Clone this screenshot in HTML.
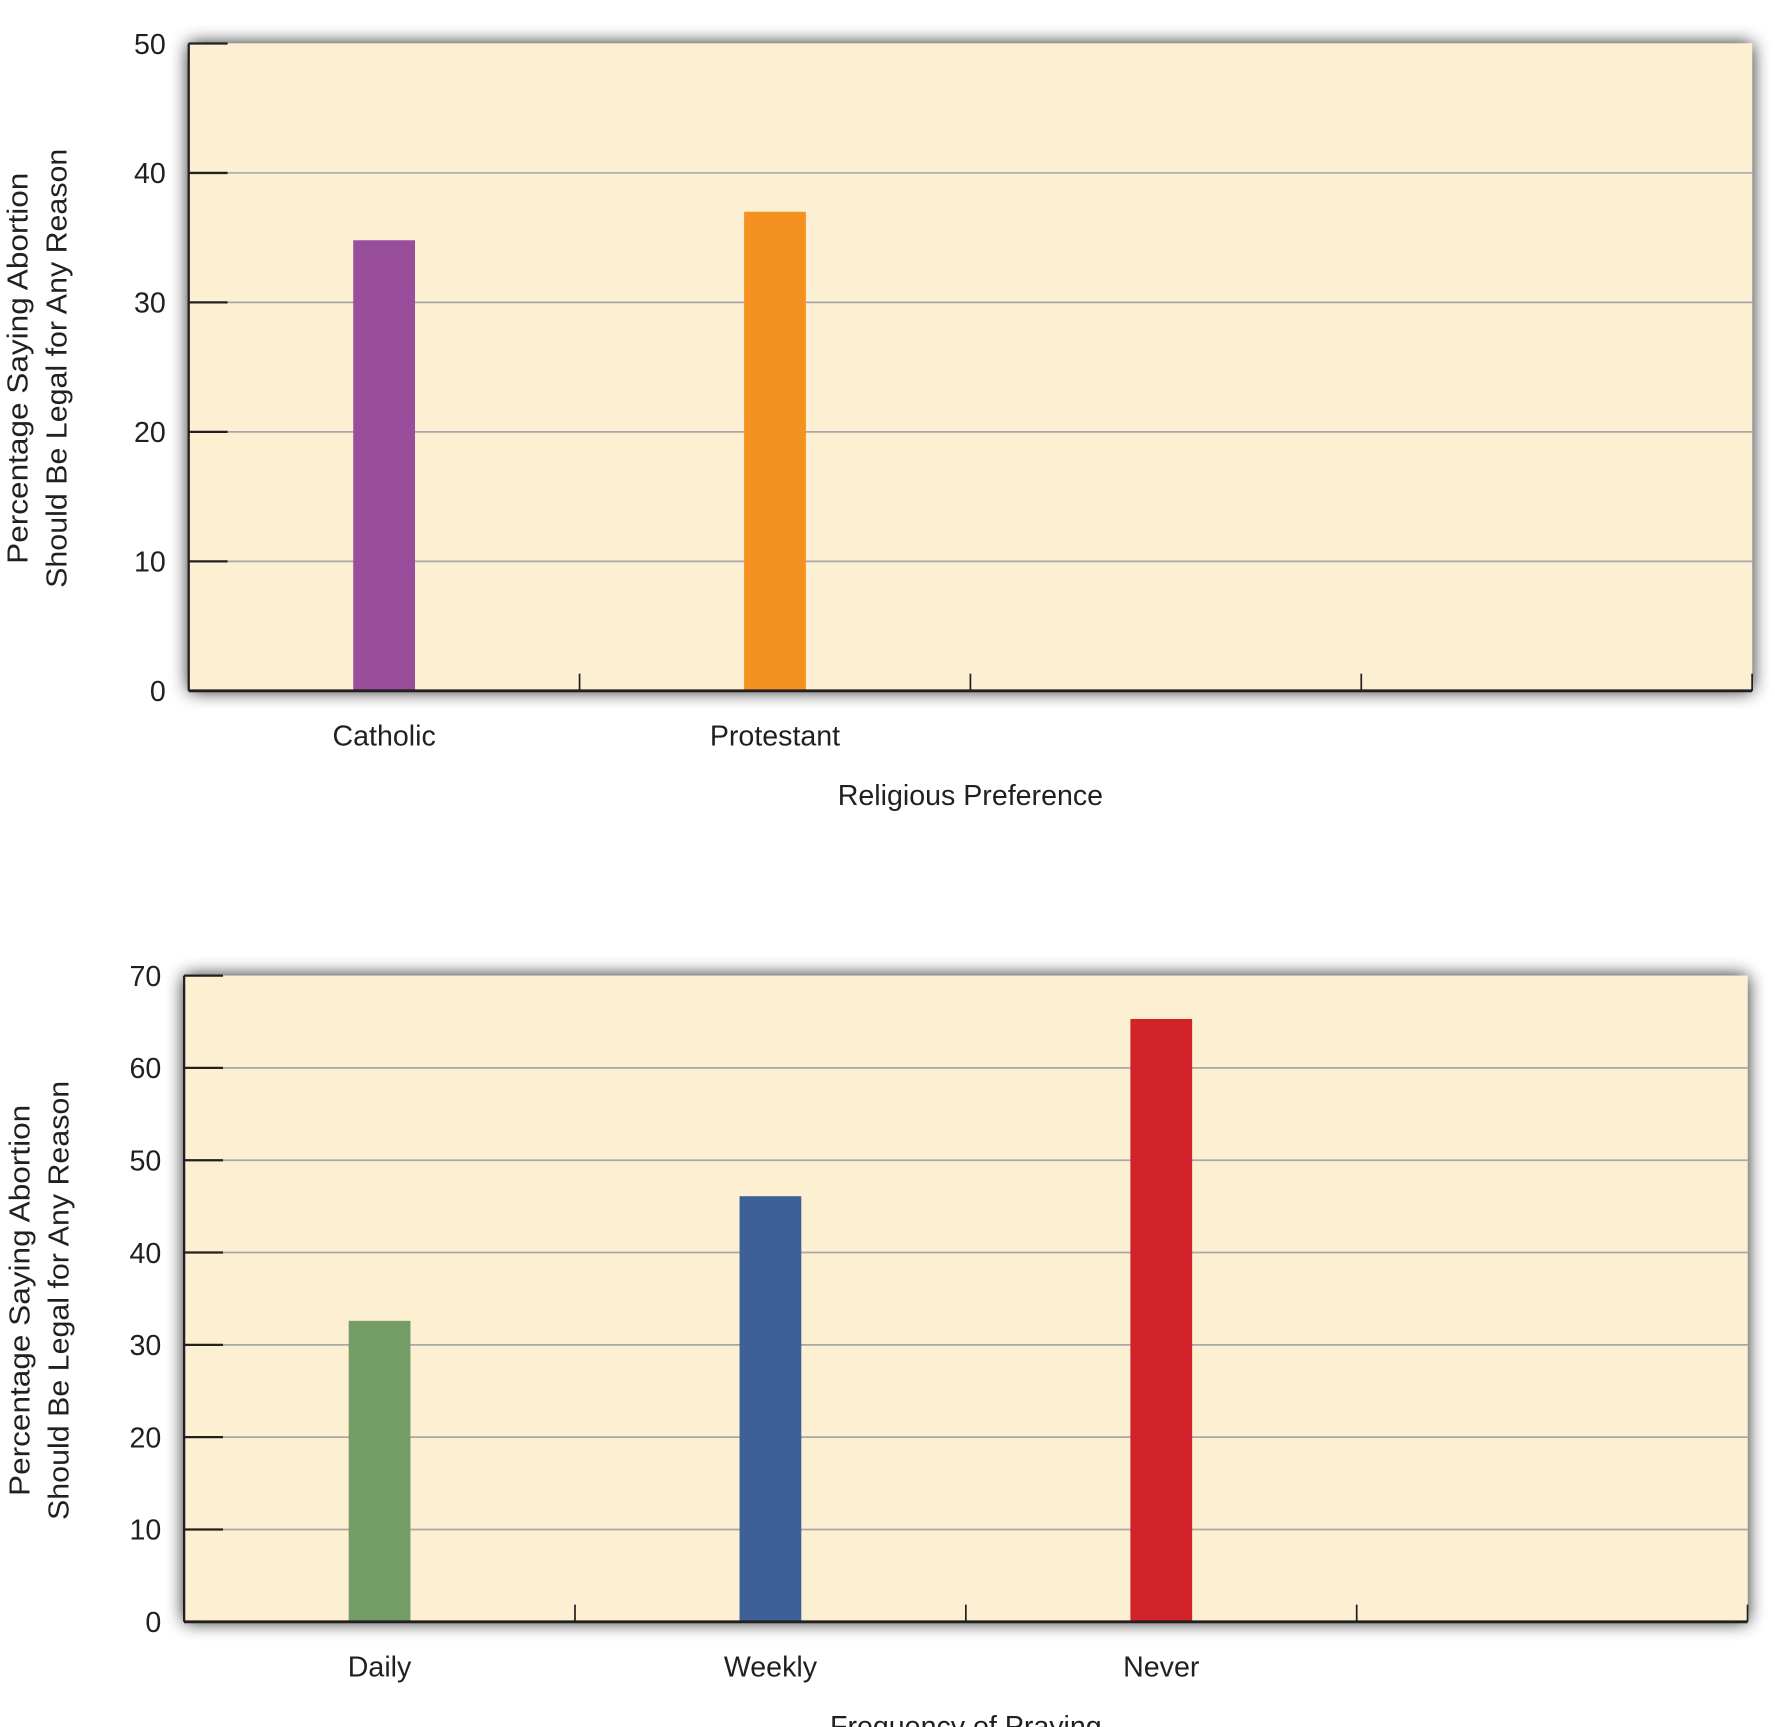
<!DOCTYPE html>
<html><head><meta charset="utf-8"><style>
html,body{margin:0;padding:0;background:#fff;}
svg{display:block;font-family:"Liberation Sans",sans-serif;}
</style></head>
<body>
<svg id="chart" width="1775" height="1727" viewBox="0 0 1552 1510" preserveAspectRatio="none" xmlns="http://www.w3.org/2000/svg">
<defs>
<filter id="sh" x="-5%" y="-10%" width="110%" height="120%">
<feGaussianBlur in="SourceAlpha" stdDeviation="8"/>
<feComponentTransfer><feFuncA type="linear" slope="0.9"/></feComponentTransfer>
<feMerge><feMergeNode/><feMergeNode in="SourceGraphic"/></feMerge>
</filter>
</defs>
<g id="c1"></g>
<g id="c2"></g>
</svg>
<script>
const cats1 = ["Catholic", "Protestant", "", ""];
const vals1 = [34.8, 37];
const colors1 = ["#984e9a", "#f49120"];
const ticks1 = [0, 10, 20, 30, 40, 50];

const cats2 = ["Daily", "Weekly", "Never", ""];
const vals2 = [32.6, 46.1, 65.3];
const colors2 = ["#739c66", "#3d6096", "#d2232a"];
const ticks2 = [0, 10, 20, 30, 40, 50, 60, 70];

const NS = "http://www.w3.org/2000/svg";
function mk(parent, tag, attrs, text) {
  const e = document.createElementNS(NS, tag);
  for (const k in attrs) e.setAttribute(k, attrs[k]);
  if (text !== undefined) e.textContent = text;
  parent.appendChild(e);
  return e;
}
function draw(g, cfg) {
  const {L, R, T, B, cats, vals, colors, ticks, xTitle, key} = cfg;
  const max = ticks[ticks.length - 1];
  const y = v => B - (v / max) * (B - T);
  const band = (R - L) / cats.length;
  const x = i => L + band * (i + 0.5);
  const bg = mk(g, "rect", {x: L, y: T, width: R - L, height: B - T, fill: "#fdf0d2", filter: "url(#sh)"});
  
  
  ticks.forEach(t => {
    if (t > 0 && t < max) {
      const gl = mk(g, "line", {x1: L, x2: R, y1: y(t), y2: y(t), stroke: "#a7a7ab", "stroke-width": 1.5});
      
      
    }
    const tk = mk(g, "line", {x1: L, x2: L + 34, y1: y(t), y2: y(t), stroke: "#231f20", "stroke-width": 2});
    
    
    const tl = mk(g, "text", {x: L - 20, y: y(t) + 9, "text-anchor": "end", "font-size": 25, fill: "#231f20"}, String(t));
    
    
  });
  vals.forEach((v, i) => {
    const b = mk(g, "rect", {x: x(i) - 27, y: y(v), width: 54, height: B - y(v), fill: colors[i]});
    
    
  });
  cats.forEach((c, i) => {
    if (i > 0) {
      const xt = mk(g, "line", {x1: L + band * i, x2: L + band * i, y1: B, y2: B - 15, stroke: "#231f20", "stroke-width": 1.5});
      
      
    }
    if (c) {
      const cl = mk(g, "text", {x: x(i), y: B + 48, "text-anchor": "middle", "font-size": 25, fill: "#231f20"}, c);
      
      
    }
  });
  const la = mk(g, "line", {x1: L, x2: L, y1: T, y2: B, stroke: "#231f20", "stroke-width": 2});
  
  
  const ba = mk(g, "line", {x1: L, x2: R, y1: B, y2: B, stroke: "#231f20", "stroke-width": 2.5});
  
  
  const ra = mk(g, "line", {x1: R, x2: R, y1: B, y2: B - 15, stroke: "#231f20", "stroke-width": 1.5});
  
  
  const xt = mk(g, "text", {x: (L + R) / 2, y: B + 100, "text-anchor": "middle", "font-size": 25, fill: "#231f20"}, xTitle);
  
  
  const yt = mk(g, "text", {transform: "translate(" + cfg.titleX + "," + cfg.titleY + ") rotate(-90)", "text-anchor": "middle", "font-size": 25, fill: "#231f20"});
  
  
  mk(yt, "tspan", {x: 0, y: 0, textLength: 342, lengthAdjust: "spacingAndGlyphs"}, "Percentage Saying Abortion");
  mk(yt, "tspan", {x: 0, y: 34, textLength: 384, lengthAdjust: "spacingAndGlyphs"}, "Should Be Legal for Any Reason");
}
draw(document.getElementById("c1"), {L: 165, R: 1532, T: 38, B: 604, cats: cats1, vals: vals1, colors: colors1, ticks: ticks1, xTitle: "Religious Preference", key: "religion", titleX: 24, titleY: 322});
draw(document.getElementById("c2"), {L: 161, R: 1528, T: 853, B: 1418, cats: cats2, vals: vals2, colors: colors2, ticks: ticks2, xTitle: "Frequency of Praying", key: "praying", titleX: 26, titleY: 1137});
</script>
</body></html>
